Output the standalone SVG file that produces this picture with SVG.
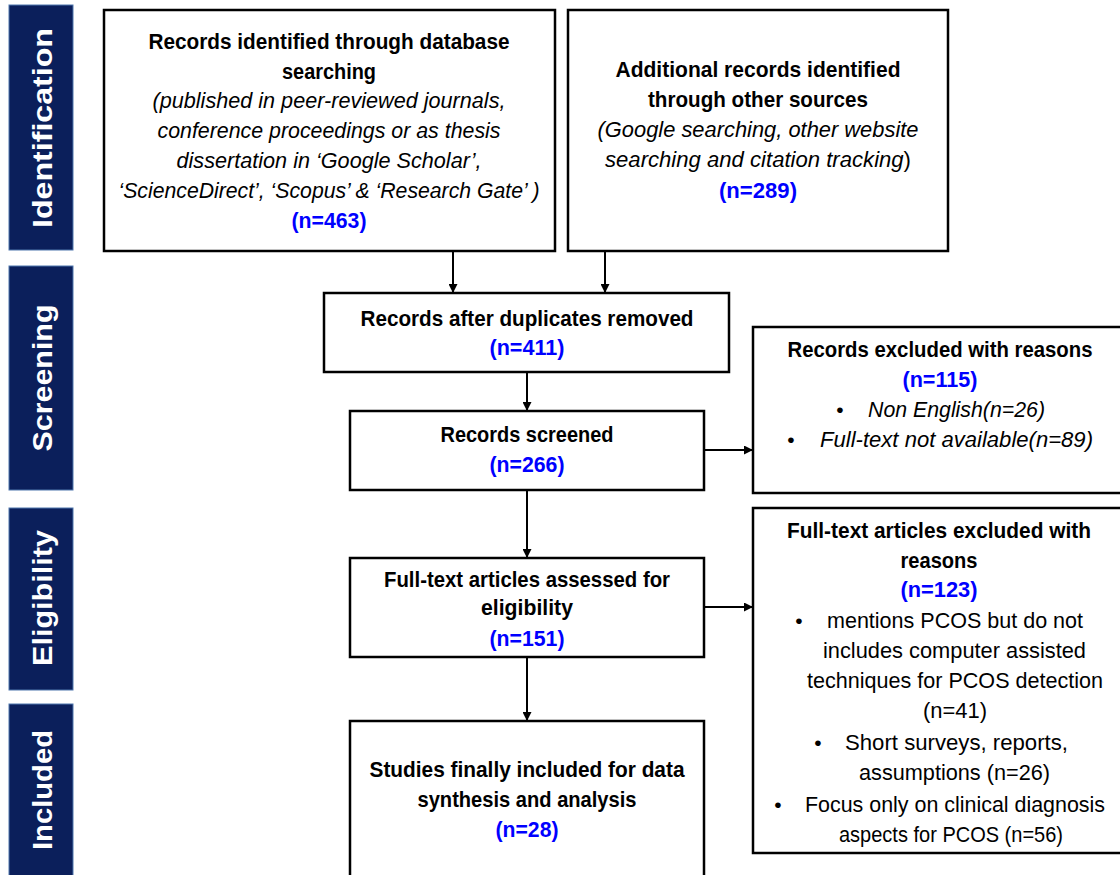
<svg xmlns="http://www.w3.org/2000/svg" width="1120" height="875" viewBox="0 0 1120 875">
<style>
.bar{fill:#0b1f5b;stroke:#4f77ad;stroke-width:1}
.side{font-family:"Liberation Sans",Arial,sans-serif;font-weight:bold;font-size:28.5px;fill:#ffffff;text-anchor:middle}
.box{fill:#ffffff;stroke:#000000;stroke-width:2.5}
.b{font-family:"Liberation Sans",Arial,sans-serif;font-weight:bold;font-size:21.5px;fill:#000000;text-anchor:middle}
.n{font-family:"Liberation Sans",Arial,sans-serif;font-weight:bold;font-size:21.5px;fill:#0000ff;text-anchor:middle}
.i{font-family:"Liberation Sans",Arial,sans-serif;font-style:italic;font-size:22px;fill:#000000;text-anchor:middle}
.r{font-family:"Liberation Sans",Arial,sans-serif;font-size:22px;fill:#000000;text-anchor:middle}
.il{font-family:"Liberation Sans",Arial,sans-serif;font-style:italic;font-size:22px;fill:#000000}
.rl{font-family:"Liberation Sans",Arial,sans-serif;font-size:22px;fill:#000000}
.dot{font-family:"Liberation Sans",Arial,sans-serif;font-size:21px;fill:#000000;text-anchor:middle}
.conn{stroke:#000000;stroke-width:2;fill:none;marker-end:url(#ah)}
</style>
<defs>
<marker id="ah" markerUnits="userSpaceOnUse" markerWidth="9" markerHeight="9" refX="9" refY="4.5" orient="auto">
<path d="M0,0 L9,4.5 L0,9 z" fill="#000000"/>
</marker>
</defs>
<rect width="1120" height="875" fill="#ffffff"/>

<g id="stage-identification">
<rect class="bar" x="9" y="5" width="64" height="245"/>
<text class="side" transform="translate(52,128) rotate(-90)" textLength="200" lengthAdjust="spacingAndGlyphs">Identification</text>
</g>
<g id="stage-screening">
<rect class="bar" x="9" y="266" width="64" height="224"/>
<text class="side" transform="translate(52,378) rotate(-90)" textLength="147" lengthAdjust="spacingAndGlyphs">Screening</text>
</g>
<g id="stage-eligibility">
<rect class="bar" x="9" y="508" width="64" height="182"/>
<text class="side" transform="translate(52,598) rotate(-90)" textLength="136" lengthAdjust="spacingAndGlyphs">Eligibility</text>
</g>
<g id="stage-included">
<rect class="bar" x="9" y="704" width="64" height="180"/>
<text class="side" transform="translate(52,790) rotate(-90)" textLength="120" lengthAdjust="spacingAndGlyphs">Included</text>
</g>

<g id="connectors">
<line class="conn" x1="453" y1="251" x2="453" y2="293"/>
<line class="conn" x1="605" y1="251" x2="605" y2="293"/>
<line class="conn" x1="527" y1="372" x2="527" y2="411"/>
<line class="conn" x1="704" y1="450" x2="753" y2="450"/>
<line class="conn" x1="527" y1="490" x2="527" y2="558"/>
<line class="conn" x1="704" y1="607" x2="753" y2="607"/>
<line class="conn" x1="527" y1="657" x2="527" y2="721"/>
</g>

<g id="node-database">
<rect class="box" x="104" y="10" width="451" height="241"/>
<text class="b" x="329" y="49" textLength="361" lengthAdjust="spacingAndGlyphs">Records identified through database</text>
<text class="b" x="329" y="79" textLength="94" lengthAdjust="spacingAndGlyphs">searching</text>
<text class="i" x="329" y="108" textLength="353" lengthAdjust="spacingAndGlyphs">(published in peer-reviewed journals,</text>
<text class="i" x="329" y="138" textLength="343" lengthAdjust="spacingAndGlyphs">conference proceedings or as thesis</text>
<text class="i" x="329" y="168" textLength="305" lengthAdjust="spacingAndGlyphs">dissertation in ‘Google Scholar’,</text>
<text class="i" x="329" y="198" textLength="421" lengthAdjust="spacingAndGlyphs">‘ScienceDirect’, ‘Scopus’ &amp; ‘Research Gate’ )</text>
<text class="n" x="329" y="228" textLength="75" lengthAdjust="spacingAndGlyphs">(n=463)</text>
</g>

<g id="node-other-sources">
<rect class="box" x="568" y="10" width="380" height="241"/>
<text class="b" x="758" y="77" textLength="285" lengthAdjust="spacingAndGlyphs">Additional records identified</text>
<text class="b" x="758" y="107" textLength="220" lengthAdjust="spacingAndGlyphs">through other sources</text>
<text class="i" x="758" y="137" textLength="321" lengthAdjust="spacingAndGlyphs">(Google searching, other website</text>
<text class="i" x="758" y="167" textLength="306" lengthAdjust="spacingAndGlyphs">searching and citation tracking<tspan font-style="normal">)</tspan></text>
<text class="n" x="758" y="198" textLength="78" lengthAdjust="spacingAndGlyphs">(n=289)</text>
</g>

<g id="node-duplicates">
<rect class="box" x="324" y="293" width="405" height="79"/>
<text class="b" x="527" y="326" textLength="333" lengthAdjust="spacingAndGlyphs">Records after duplicates removed</text>
<text class="n" x="527" y="355" textLength="75" lengthAdjust="spacingAndGlyphs">(n=411)</text>
</g>

<g id="node-screened">
<rect class="box" x="350" y="411" width="354" height="79"/>
<text class="b" x="527" y="442" textLength="173" lengthAdjust="spacingAndGlyphs">Records screened</text>
<text class="n" x="527" y="472" textLength="75" lengthAdjust="spacingAndGlyphs">(n=266)</text>
</g>

<g id="node-excluded-records">
<rect class="box" x="753" y="327" width="390" height="166"/>
<text class="b" x="940" y="357" textLength="305" lengthAdjust="spacingAndGlyphs">Records excluded with reasons</text>
<text class="n" x="940" y="387" textLength="75" lengthAdjust="spacingAndGlyphs">(n=115)</text>
<text class="dot" x="840" y="417">•</text>
<text class="il" x="868" y="417" textLength="177" lengthAdjust="spacingAndGlyphs">Non English(n=26)</text>
<text class="dot" x="791" y="447">•</text>
<text class="il" x="820" y="447" textLength="273" lengthAdjust="spacingAndGlyphs">Full-text not available(n=89)</text>
</g>

<g id="node-assessed">
<rect class="box" x="350" y="558" width="354" height="99"/>
<text class="b" x="527" y="587" textLength="286" lengthAdjust="spacingAndGlyphs">Full-text articles assessed for</text>
<text class="b" x="527" y="615" textLength="92" lengthAdjust="spacingAndGlyphs">eligibility</text>
<text class="n" x="527" y="646" textLength="75" lengthAdjust="spacingAndGlyphs">(n=151)</text>
</g>

<g id="node-excluded-fulltext">
<rect class="box" x="753" y="508" width="390" height="345"/>
<text class="b" x="939" y="538" textLength="304" lengthAdjust="spacingAndGlyphs">Full-text articles excluded with</text>
<text class="b" x="939" y="568" textLength="77" lengthAdjust="spacingAndGlyphs">reasons</text>
<text class="n" x="939" y="597" textLength="77" lengthAdjust="spacingAndGlyphs">(n=123)</text>
<text class="dot" x="799" y="628">•</text>
<text class="rl" x="827" y="628" textLength="256" lengthAdjust="spacingAndGlyphs">mentions PCOS but do not</text>
<text class="rl" x="823" y="658" textLength="263" lengthAdjust="spacingAndGlyphs">includes computer assisted</text>
<text class="rl" x="807" y="688" textLength="296" lengthAdjust="spacingAndGlyphs">techniques for PCOS detection</text>
<text class="r" x="955" y="718" textLength="64" lengthAdjust="spacingAndGlyphs">(n=41)</text>
<text class="dot" x="818" y="750">•</text>
<text class="rl" x="845" y="750" textLength="223" lengthAdjust="spacingAndGlyphs">Short surveys, reports,</text>
<text class="rl" x="859" y="780" textLength="191" lengthAdjust="spacingAndGlyphs">assumptions (n=26)</text>
<text class="dot" x="778" y="812">•</text>
<text class="rl" x="805" y="812" textLength="300" lengthAdjust="spacingAndGlyphs">Focus only on clinical diagnosis</text>
<text class="rl" x="839" y="842" textLength="224" lengthAdjust="spacingAndGlyphs">aspects for PCOS (n=56)</text>
</g>

<g id="node-included">
<rect class="box" x="350" y="721" width="354" height="180"/>
<text class="b" x="527" y="777" textLength="315" lengthAdjust="spacingAndGlyphs">Studies finally included for data</text>
<text class="b" x="527" y="807" textLength="219" lengthAdjust="spacingAndGlyphs">synthesis and analysis</text>
<text class="n" x="527" y="837" textLength="63" lengthAdjust="spacingAndGlyphs">(n=28)</text>
</g>
</svg>
